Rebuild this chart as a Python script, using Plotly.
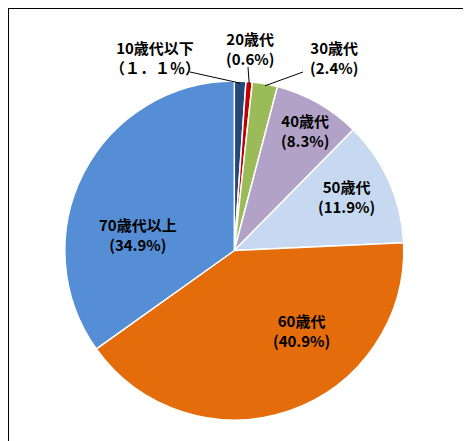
import math
import plotly.graph_objects as go

categories = ["10歳代以下", "20歳代", "30歳代", "40歳代", "50歳代", "60歳代", "70歳代以上"]
values = [1.1, 0.6, 2.4, 8.3, 11.9, 40.9, 34.9]
pct_labels = ["（１．１％）", "(0.6%)", "(2.4%)", "(8.3%)", "(11.9%)", "(40.9%)", "(34.9%)"]
colors = ["#24487A", "#C00000", "#9BBB59", "#B3A2C7", "#C6D9F1", "#E46C0A", "#558ED5"]

W, H = 471, 441
OFF = 8  # page body margin offset
CX, CY, R = 234.3, 250.5, 169.5

# label block centres (pixels in the picture) and leader-line starts for outside labels
label_pos = [(155, 57), (250, 48), (334, 57), (305, 131), (346, 196), (301, 330), (138, 234)]
leader_start = {0: (190, 72), 1: (248, 67), 2: (303, 72)}

def px(x):
    return (x - OFF) / W

def py(y):
    return 1 - (y - OFF) / H

fig = go.Figure(go.Pie(
    labels=categories,
    values=values,
    sort=False,
    direction="clockwise",
    rotation=0,
    textinfo="none",
    marker=dict(colors=colors, line=dict(color="white", width=1.5)),
    domain=dict(x=[px(CX - R), px(CX + R)], y=[py(CY + R), py(CY - R)]),
    showlegend=False,
))

annotations = []
shapes = []
total = sum(values)
cum = 0.0
for i, (cat, v) in enumerate(zip(categories, values)):
    mid = (cum + v / 2) / total * 2 * math.pi
    cum += v
    lx, ly = label_pos[i]
    annotations.append(dict(
        x=px(lx), y=py(ly), xref="paper", yref="paper",
        text=f"{cat}<br>{pct_labels[i]}", showarrow=False,
        font=dict(family="Noto Sans CJK JP", size=15, color="#000000", weight="bold"),
        align="center", xanchor="center", yanchor="middle",
    ))
    if i in leader_start:
        sx, sy = leader_start[i]
        ex = CX + R * math.sin(mid)
        ey = CY - R * math.cos(mid)
        shapes.append(dict(type="line", xref="paper", yref="paper",
                           x0=px(sx), y0=py(sy), x1=px(ex), y1=py(ey + 2),
                           line=dict(color="#000000", width=1)))

# outer frame
shapes.append(dict(type="rect", xref="paper", yref="paper",
                   x0=px(7.5), x1=1.2, y0=-0.2, y1=py(7.5),
                   line=dict(color="#000000", width=3)))

fig.update_layout(
    width=W, height=H,
    margin=dict(l=0, r=0, t=0, b=0),
    paper_bgcolor="white", plot_bgcolor="white",
    annotations=annotations, shapes=shapes,
)
fig.write_html("out.html")
